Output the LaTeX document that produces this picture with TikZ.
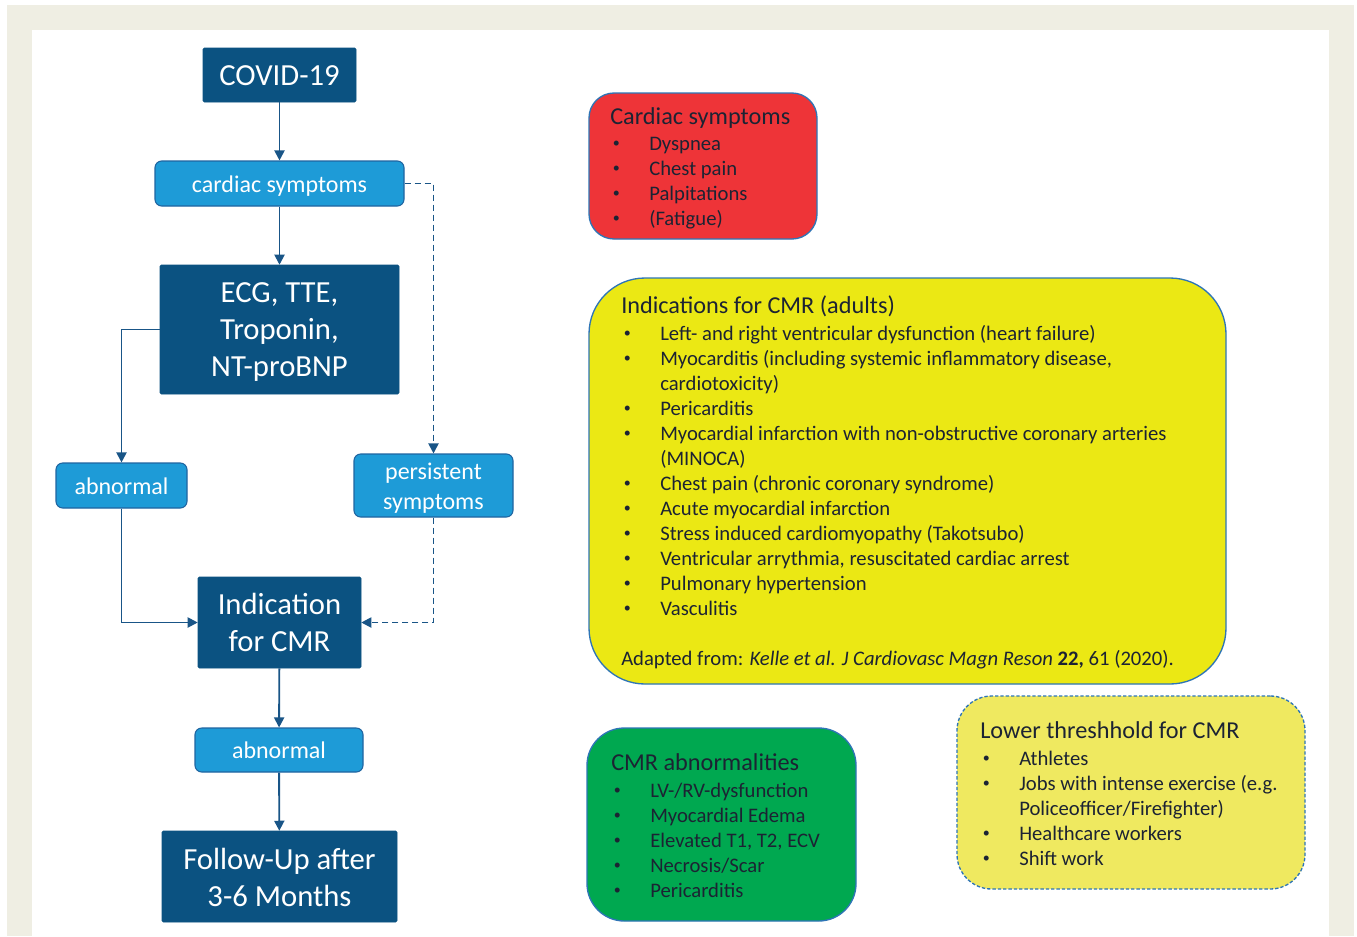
\documentclass[tikz,border=0pt]{standalone}
\usepackage{fontspec}
\setmainfont{Carlito}
\usetikzlibrary{arrows.meta}
\definecolor{beige}{RGB}{239,238,227}
\definecolor{darkblue}{RGB}{11,82,129}
\definecolor{lightblue}{RGB}{30,155,215}
\definecolor{lbborder}{RGB}{31,100,160}
\definecolor{linec}{RGB}{25,85,135}
\definecolor{redf}{RGB}{238,52,56}
\definecolor{yellowf}{RGB}{235,232,20}
\definecolor{greenf}{RGB}{0,168,80}
\definecolor{paleyellow}{RGB}{239,233,96}
\definecolor{boxborder}{RGB}{46,117,182}
\definecolor{txt}{RGB}{28,35,51}
\newcommand{\bl}{\makebox[27.75pt][l]{\hspace*{0.5pt}\raisebox{0.11em}{\scalebox{0.68}{\textbullet}}}}
\begin{document}
\begin{tikzpicture}[x=0.75pt,y=-0.75pt,
  bigbox/.style={fill=darkblue, draw=darkblue, rounded corners=1pt, inner sep=0pt},
  smallbox/.style={fill=lightblue, draw=lbborder, line width=0.8pt, rounded corners=5pt, inner sep=0pt},
  bigtext/.style={text=white, inner sep=0pt, align=center, font=\fontsize{23}{27.75}\selectfont},
  smalltext/.style={text=white, inner sep=0pt, align=center, font=\fontsize{18}{22.5}\selectfont},
  conn/.style={draw=linec, line width=1.4pt, -{Triangle[length=7.5pt,width=7.5pt]}},
  dconn/.style={conn, dash pattern=on 4.5pt off 3pt},
  infobox/.style={draw=boxborder, line width=1pt, inner sep=0pt},
  ttl/.style={anchor=base west, inner sep=0pt, text=txt, font=\fontsize{18.2}{22}\selectfont},
  item/.style={anchor=base west, inner sep=0pt, text=txt, font=\fontsize{15.5}{18.75}\selectfont}]
\useasboundingbox (0,0) rectangle (1357,936);
\fill[white] (0,0) rectangle (1357,936);
\fill[beige] (7,5) rectangle (1354,936);
\fill[white] (32,30) rectangle (1329,936);

% flowchart boxes
\node[bigbox, minimum width=114.75pt, minimum height=40.5pt] (covid) at (279.5,75) {};
\node[smallbox, minimum width=186.75pt, minimum height=33.75pt] (card) at (279.5,183.5) {};
\node[bigbox, minimum width=179.25pt, minimum height=96.75pt] (ecg) at (279.5,329.5) {};
\node[smallbox, minimum width=98.25pt, minimum height=33.75pt] (abnl) at (121.5,485.5) {};
\node[smallbox, minimum width=119.25pt, minimum height=47.25pt] (pers) at (433.5,485.5) {};
\node[bigbox, minimum width=122.25pt, minimum height=68.25pt] (ind) at (279.5,622.5) {};
\node[smallbox, minimum width=126pt, minimum height=33pt] (abnb) at (279,750) {};
\node[bigbox, minimum width=176.25pt, minimum height=68.25pt] (fol) at (279.5,876.5) {};

% flowchart texts
\node[bigtext] (covidt) at (279.5,76) {COVID-19};
\node[smalltext] (cardt) at (279.5,186.5) {cardiac symptoms};
\node[bigtext] (ecgt) at (279.5,332.5) {ECG, TTE,\\Troponin,\\NT-proBNP};
\node[smalltext] (abnlt) at (121.5,486.5) {abnormal};
\node[smalltext] (perst) at (433.5,488.5) {persistent\\symptoms};
\node[bigtext] (indt) at (279.5,622.5) {Indication\\for CMR};
\node[smalltext] (abnbt) at (279,750) {abnormal};
\node[bigtext] (folt) at (279.5,877.5) {Follow-Up after\\3-6 Months};

\draw[conn] (covid) -- (card);
\draw[conn] (card) -- (ecg);
\draw[conn] (ecg.west) -| (abnl.north);
\draw[conn] (abnl.south) |- (ind.west);
\draw[dconn] (card.east) -| (pers.north);
\draw[dconn] (pers.south) |- (ind.east);
\draw[conn] (ind) -- (abnb);
\draw[conn] (abnb) -- (fol);

% info boxes
\node[infobox, fill=redf, rounded corners=18.75pt, minimum width=171pt, minimum height=109.5pt] (redbox) at (703,166) {};
\node[infobox, fill=yellowf, rounded corners=42pt, minimum width=477.75pt, minimum height=304.5pt] (yelbox) at (907.5,481) {};
\node[infobox, fill=greenf, rounded corners=28pt, minimum width=201.75pt, minimum height=144.75pt] (grnbox) at (721.5,824.5) {};
\node[infobox, fill=paleyellow, dash pattern=on 2.5pt off 1.5pt, rounded corners=26pt, minimum width=261pt, minimum height=144.75pt] (lowbox) at (1131,792.5) {};

% red text
\node[ttl] (r0) at (610,124) {Cardiac symptoms};
\foreach \t [count=\i] in {Dyspnea, Chest pain, Palpitations, (Fatigue)}
  \node[item] (r\i) at (612,{125+25*\i}) {\bl\t};

% yellow text
\node[ttl] (y0) at (621,313) {Indications for CMR (adults)};
\node[item] (y1) at (623,340) {\bl Left- and right ventricular dysfunction (heart failure)};
\node[item] (y2) at (623,365) {\bl Myocarditis (including systemic inflammatory disease,};
\node[item] (y3) at (660,390) {cardiotoxicity)};
\node[item] (y4) at (623,415) {\bl Pericarditis};
\node[item] (y5) at (623,440) {\bl Myocardial infarction with non-obstructive coronary arteries};
\node[item] (y6) at (660,465) {(MINOCA)};
\node[item] (y7) at (623,490) {\bl Chest pain (chronic coronary syndrome)};
\node[item] (y8) at (623,515) {\bl Acute myocardial infarction};
\node[item] (y9) at (623,540) {\bl Stress induced cardiomyopathy (Takotsubo)};
\node[item] (y10) at (623,565) {\bl Ventricular arrythmia, resuscitated cardiac arrest};
\node[item] (y11) at (623,590) {\bl Pulmonary hypertension};
\node[item] (y12) at (623,615) {\bl Vasculitis};
\node[item] (y13) at (621,665) {Adapted from: \textit{Kelle et al. J Cardiovasc Magn Reson} \textbf{22,} 61 (2020).};

% green text
\node[ttl] (g0) at (611,770) {CMR abnormalities};
\foreach \t [count=\i] in {LV-/RV-dysfunction, Myocardial Edema, {Elevated T1, T2, ECV}, Necrosis/Scar, Pericarditis}
  \node[item] (g\i) at (613,{772+25*\i}) {\bl\t};

% lower threshold text
\node[ttl] (l0) at (980,738) {Lower threshhold for CMR};
\node[item] (l1) at (982,765) {\bl Athletes};
\node[item] (l2) at (982,790) {\bl Jobs with intense exercise (e.g.};
\node[item] (l3) at (1019,815) {Policeofficer/Firefighter)};
\node[item] (l4) at (982,840) {\bl Healthcare workers};
\node[item] (l5) at (982,865) {\bl Shift work};
\end{tikzpicture}
\end{document}
